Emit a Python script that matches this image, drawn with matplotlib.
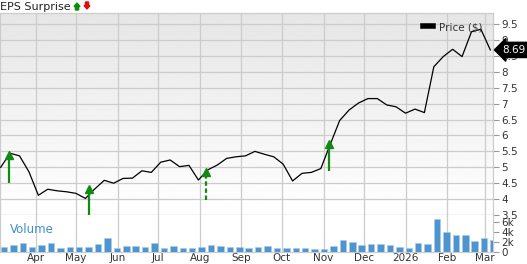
import numpy as np
import matplotlib
matplotlib.use("Agg")
import matplotlib.pyplot as plt
import matplotlib.dates as mdates
from matplotlib.ticker import FixedLocator, FuncFormatter

# weekly closes, Mar 2025 - Mar 2026
start = np.datetime64("2025-03-06")
price = [5.00, 5.44, 5.36, 4.86, 4.12, 4.31, 4.26, 4.23, 4.18, 4.02,
         4.32, 4.59, 4.50, 4.65, 4.66, 4.89, 4.84, 5.16, 5.23, 5.02,
         5.06, 4.60, 4.92, 5.07, 5.28, 5.33, 5.36, 5.50, 5.41, 5.33,
         5.10, 4.57, 4.81, 4.84, 4.96, 5.72, 6.47, 6.80, 7.02, 7.16,
         7.16, 6.96, 6.90, 6.70, 6.83, 6.72, 8.16, 8.48, 8.71, 8.48,
         9.26, 9.34, 8.69]
volume_k = [1.0, 1.46, 1.9, 1.0, 1.46, 1.73, 0.87, 1.07, 1.0, 1.07,
            1.53, 2.8, 0.87, 1.13, 1.13, 1.07, 1.73, 0.87, 1.2, 0.87,
            0.8, 1.07, 1.47, 1.2, 0.93, 1.0, 0.8, 0.93, 1.2, 0.87,
            0.87, 0.87, 0.8, 0.6, 0.67, 1.2, 2.4, 1.93, 1.33, 1.53,
            1.53, 1.4, 0.93, 0.8, 1.73, 1.53, 6.6, 3.93, 3.4, 3.47,
            2.27, 2.8, 2.33]
dates = (start + np.arange(len(price)) * 7).astype("datetime64[D]").astype(object)

# EPS surprise arrows (all beats)
eps_dates = ["2025-03-12", "2025-05-11", "2025-08-06", "2025-11-05"]
eps_tip = [5.47, 4.40, 4.94, 5.82]
eps_base = [4.50, 3.47, 3.97, 4.88]
eps_dashed = [False, False, True, False]

last_price = "8.69"

GRID = "#cccccc"
TXT = "#333333"
GREEN = "#118a11"

fig = plt.figure(figsize=(5.27, 2.64), dpi=100)
W, H = 527, 264
ax = fig.add_axes([0, 1 - 215 / H, 493 / W, (215 - 12.7) / H])
axv = fig.add_axes([0, 1 - 252 / H, 493 / W, 37 / H], sharex=ax)

xmin = mdates.date2num(np.datetime64("2025-03-05T12:00"))
xmax = mdates.date2num(np.datetime64("2026-03-07"))

# background gradient, grey at top fading to white
grad = np.linspace(0.9, 1.0, 256).reshape(-1, 1)
ax.imshow(grad, extent=[0, 1, 0, 1], origin="upper", transform=ax.transAxes,
          aspect="auto", cmap="gray", vmin=0, vmax=1, zorder=0.1)

ax.plot(dates, price, color="black", lw=0.9, zorder=3)
ax.set_xlim(xmin, xmax)
ax.set_ylim(3.5, 9.86)

for d, t, b, dash in zip(eps_dates, eps_tip, eps_base, eps_dashed):
    xd = mdates.date2num(np.datetime64(d))
    ax.plot([xd, xd], [b, t - 0.12], color=GREEN, lw=1.6,
            ls=(0, (2, 1.2)) if dash else "-", zorder=4, clip_on=False,
            solid_capstyle="butt")
    ax.plot([xd], [t - 0.08], marker="^", ms=5.5, color=GREEN, mec=GREEN,
            zorder=4, clip_on=False)

ax.yaxis.tick_right()
ax.set_yticks(np.arange(3.5, 9.6, 0.5))
ax.yaxis.set_major_formatter(FuncFormatter(lambda v, p: f"{v:g}"))
ax.tick_params(axis="y", length=4, width=0.8, color="#999999", pad=2,
               labelsize=7.5, labelcolor=TXT)
ax.tick_params(axis="x", length=0, labelbottom=False)
ax.grid(True, color=GRID, lw=0.9)
ax.set_axisbelow(True)
for s in ax.spines.values():
    s.set_color(GRID)
    s.set_linewidth(0.9)

months = [np.datetime64(f"2025-{m:02d}-01") for m in range(4, 13)] + \
         [np.datetime64(f"2026-{m:02d}-01") for m in range(1, 4)]
mticks = [mdates.date2num(m) for m in months]
ax.xaxis.set_major_locator(FixedLocator(mticks))


def month_label(v, pos):
    d = mdates.num2date(v)
    return str(d.year) if d.month == 1 else d.strftime("%b")


leg = ax.legend(handles=[plt.Line2D([], [], color="black", lw=4)],
                labels=["Price ($)"], loc="upper right",
                bbox_to_anchor=(0.995, 0.995), frameon=False,
                handlelength=1.0, handletextpad=0.5, fontsize=7.5,
                borderpad=0.3)
for t in leg.get_texts():
    t.set_color(TXT)

ax.annotate(last_price, xy=(1.0, 8.69), xycoords=("axes fraction", "data"),
            xytext=(7, 0), textcoords="offset points", ha="left", va="center",
            color="white", fontsize=7.5,
            bbox=dict(boxstyle="larrow,pad=0.25", fc="black", ec="black"),
            annotation_clip=False, zorder=10)

# volume panel
axv.bar(dates, volume_k, width=4.8, align="edge", color="#4d94d0",
        edgecolor="#a9cbe8", linewidth=0.4, zorder=3)
axv.set_ylim(0, 7.4)
axv.yaxis.tick_right()
axv.set_yticks([0, 2, 4, 6])
axv.set_yticklabels(["0", "2k", "4k", "6k"])
axv.tick_params(axis="y", length=4, width=0.8, color="#999999", pad=2,
                labelsize=7.5, labelcolor=TXT)
axv.xaxis.set_major_locator(FixedLocator(mticks))
axv.xaxis.set_major_formatter(FuncFormatter(month_label))
axv.tick_params(axis="x", length=0, pad=0.8, labelsize=7.5, labelcolor=TXT)
axv.grid(True, axis="x", color=GRID, lw=0.9)
axv.set_axisbelow(True)
for s in axv.spines.values():
    s.set_color(GRID)
    s.set_linewidth(0.9)
axv.spines["top"].set_visible(False)
axv.text(0.02, 0.62, "Volume", transform=axv.transAxes, color="#3f8fd0",
         fontsize=8.5, ha="left", va="center")

# header
fig.text(0.0, 1 - 6.5 / H, "EPS Surprise", fontsize=8, color="#222222",
         ha="left", va="center")
fig.patches.append(matplotlib.patches.FancyArrow(
    77 / W, 1 - 10 / H, 0, 7 / H, width=1.6 / H, head_width=6 / W,
    head_length=3.5 / H, length_includes_head=True, color="#118a11",
    transform=fig.transFigure, figure=fig))
fig.patches.append(matplotlib.patches.FancyArrow(
    87 / W, 1 - 2 / H, 0, -7 / H, width=1.6 / H, head_width=6 / W,
    head_length=3.5 / H, length_includes_head=True, color="#e01010",
    transform=fig.transFigure, figure=fig))

fig.savefig("out.png", dpi=100)
